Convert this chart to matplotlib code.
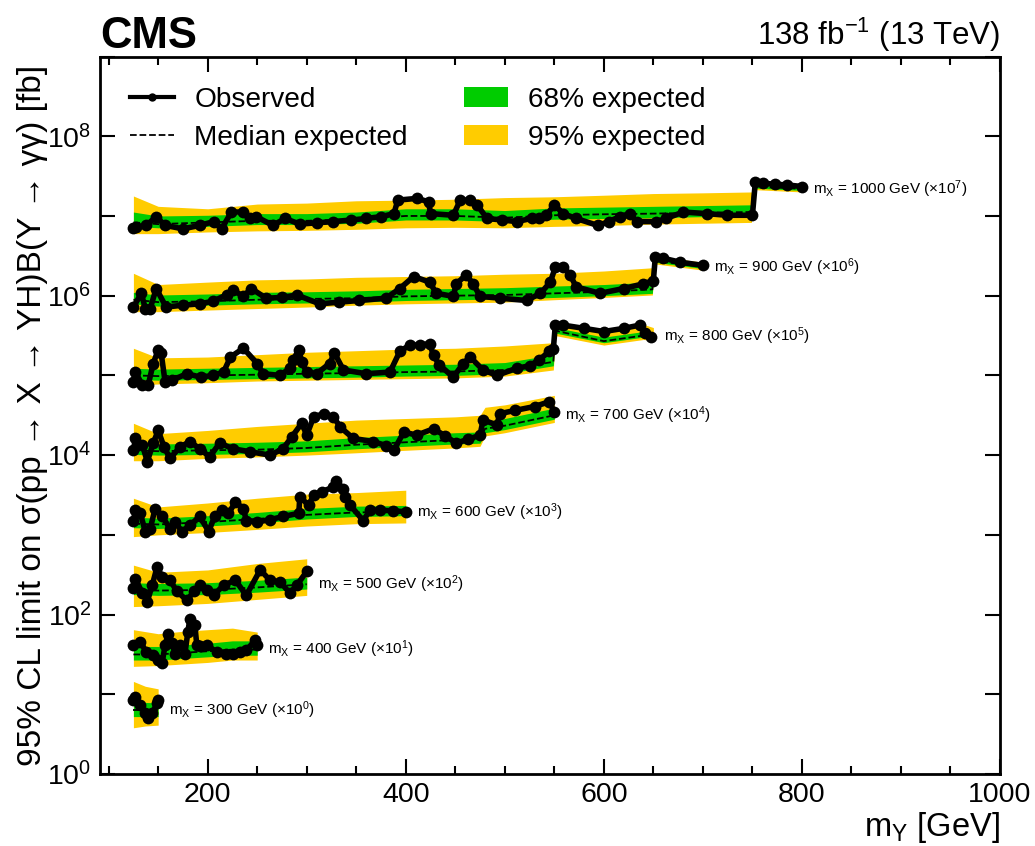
import numpy as np
import matplotlib
matplotlib.use("Agg")
import matplotlib.pyplot as plt
from matplotlib.lines import Line2D
from matplotlib.patches import Patch
from matplotlib.ticker import LogLocator, FuncFormatter, MultipleLocator, NullLocator

# limits in fb, before the x10^k scaling used in the plot
# mX = 1000 GeV (x10^7)
obs_x_1000 = [125, 128, 138, 148, 157, 175, 192, 206, 214, 224, 236, 243, 249, 266, 278, 293, 310, 327, 345, 360,
              375, 388, 392, 411, 423, 425, 448, 455, 465, 472, 482, 497, 512, 527, 535, 542, 550, 559, 572, 594,
              605, 616, 626, 633, 653, 663, 680, 704, 724, 750, 753, 761, 773, 785, 800]
obs_1000 = [0.70, 0.72, 0.76, 0.98, 0.76, 0.69, 0.76, 0.85, 0.69, 1.12, 1.12, 0.93, 0.98, 0.76, 0.93, 0.79, 0.82, 0.85, 0.89, 0.93,
            0.98, 1.07, 1.58, 1.66, 1.51, 1.07, 1.02, 1.58, 1.58, 1.38, 0.93, 0.89, 0.85, 0.93, 0.95, 1.02, 1.38, 1.07, 0.93, 0.76,
            0.85, 0.98, 1.07, 0.85, 0.85, 0.93, 1.12, 1.07, 1.02, 1.02, 2.70, 2.57, 2.50, 2.45, 2.34]
exp_x_1000 = [125, 150, 200, 250, 300, 350, 400, 450, 500, 550, 600, 650, 700, 749, 751, 800]
exp_1000 = [0.83, 0.79, 0.83, 0.87, 0.87, 0.91, 1.00, 1.00, 0.95, 1.02, 1.05, 1.07, 1.10, 1.12, 2.34, 2.19]
p2_1000 = [1.78, 1.32, 1.23, 1.41, 1.45, 1.55, 1.58, 1.62, 1.70, 1.74, 1.82, 1.91, 1.95, 2.00, 2.63, 2.45]
p1_1000 = [1.12, 1.00, 1.02, 1.07, 1.07, 1.12, 1.23, 1.23, 1.17, 1.26, 1.29, 1.32, 1.35, 1.38, 2.45, 2.29]
m1_1000 = [0.74, 0.71, 0.74, 0.78, 0.78, 0.81, 0.89, 0.89, 0.85, 0.91, 0.93, 0.95, 0.98, 1.00, 2.24, 2.09]
m2_1000 = [0.60, 0.60, 0.63, 0.65, 0.66, 0.68, 0.71, 0.72, 0.71, 0.74, 0.76, 0.79, 0.81, 0.83, 2.14, 2.00]

# mX = 900 GeV (x10^6)
obs_x_900 = [125, 133, 137, 142, 148, 158, 175, 192, 205, 219, 226, 236, 244, 259, 275, 290, 313, 333, 353, 380,
             394, 408, 424, 431, 448, 451, 461, 468, 475, 495, 522, 536, 546, 551, 559, 566, 572, 596, 620, 640,
             650, 652, 660, 677, 700]
obs_900 = [0.72, 1.07, 0.69, 0.69, 1.23, 0.72, 0.76, 0.79, 0.85, 1.02, 1.17, 0.98, 1.23, 0.93, 0.95, 1.02, 0.79, 0.83, 0.87, 0.93,
           1.23, 1.74, 1.48, 1.07, 0.98, 1.41, 1.82, 1.41, 0.98, 0.93, 0.87, 1.07, 1.48, 2.29, 2.29, 1.82, 1.29, 1.07, 1.23, 1.41,
           1.55, 3.09, 2.95, 2.63, 2.40]
exp_x_900 = [125, 150, 200, 250, 300, 350, 400, 450, 500, 550, 600, 649, 651, 700]
exp_900 = [0.89, 0.83, 0.85, 0.89, 0.91, 0.93, 0.98, 1.00, 1.02, 1.07, 1.12, 1.20, 2.75, 2.29]
p2_900 = [1.91, 1.38, 1.48, 1.58, 1.62, 1.70, 1.74, 1.78, 1.86, 1.91, 2.04, 2.24, 3.16, 2.63]
p1_900 = [1.10, 1.02, 1.05, 1.10, 1.12, 1.15, 1.20, 1.23, 1.26, 1.32, 1.38, 1.48, 2.95, 2.45]
m1_900 = [0.79, 0.74, 0.76, 0.79, 0.81, 0.83, 0.87, 0.89, 0.91, 0.95, 1.00, 1.07, 2.63, 2.19]
m2_900 = [0.63, 0.63, 0.66, 0.69, 0.72, 0.76, 0.79, 0.81, 0.83, 0.89, 0.95, 1.02, 2.51, 2.09]

# mX = 800 GeV (x10^5)
obs_x_800 = [125, 127, 134, 140, 145, 150, 153, 157, 164, 179, 193, 205, 216, 223, 236, 250, 256, 273, 283, 286,
             292, 295, 300, 310, 323, 328, 337, 360, 384, 394, 404, 414, 424, 428, 434, 448, 458, 465, 478, 492,
             512, 525, 535, 545, 549, 551, 559, 580, 600, 620, 636, 642, 648]
obs_800 = [0.83, 1.10, 0.76, 0.76, 1.41, 2.09, 1.91, 0.83, 0.87, 1.05, 0.95, 1.00, 1.10, 1.70, 2.19, 1.41, 1.05, 1.00, 1.23, 1.55,
           2.09, 1.48, 1.10, 1.05, 1.41, 1.91, 1.17, 1.05, 1.10, 2.00, 2.40, 2.40, 2.51, 1.78, 1.35, 0.95, 1.41, 1.70, 1.17, 1.00,
           1.23, 1.32, 1.58, 2.00, 2.14, 4.27, 4.27, 3.89, 3.55, 3.89, 4.27, 3.39, 3.02]
exp_x_800 = [125, 150, 200, 250, 300, 350, 400, 450, 500, 549, 551, 600, 640, 650]
exp_800 = [1.00, 0.98, 1.00, 1.02, 1.05, 1.07, 1.10, 1.12, 1.17, 1.48, 3.63, 2.69, 3.16, 3.09]
p2_800 = [2.19, 1.66, 1.70, 1.82, 1.95, 2.04, 2.14, 2.19, 2.34, 2.57, 4.47, 3.63, 4.37, 3.98]
p1_800 = [1.23, 1.20, 1.23, 1.26, 1.29, 1.32, 1.35, 1.38, 1.45, 1.82, 3.98, 3.02, 3.55, 3.47]
m1_800 = [0.89, 0.87, 0.89, 0.91, 0.93, 0.95, 0.98, 1.00, 1.05, 1.32, 3.39, 2.57, 3.02, 2.95]
m2_800 = [0.76, 0.78, 0.81, 0.85, 0.87, 0.89, 0.91, 0.93, 0.98, 1.17, 3.16, 2.40, 2.82, 2.75]

# mX = 700 GeV (x10^4)
obs_x_700 = [125, 127, 134, 139, 145, 150, 156, 162, 172, 182, 192, 202, 212, 226, 243, 263, 276, 285, 295, 300,
             307, 317, 327, 334, 347, 367, 380, 388, 398, 411, 428, 440, 451, 463, 475, 478, 492, 495, 510, 530,
             545, 550]
obs_700 = [1.15, 1.62, 1.35, 0.83, 1.41, 2.04, 1.26, 0.91, 1.26, 1.48, 1.20, 0.95, 1.41, 1.20, 1.10, 1.00, 1.20, 1.70, 2.51, 1.78,
           3.02, 3.31, 3.02, 2.24, 1.62, 1.48, 1.32, 1.15, 1.95, 1.78, 2.14, 1.74, 1.41, 1.58, 1.78, 2.75, 2.40, 3.31, 3.63, 4.07,
           4.68, 3.47]
exp_x_700 = [125, 150, 200, 250, 300, 350, 400, 450, 475, 480, 500, 550]
exp_700 = [1.15, 1.12, 1.15, 1.17, 1.23, 1.35, 1.45, 1.55, 1.58, 2.14, 2.34, 3.16]
p2_700 = [2.51, 1.86, 2.04, 2.29, 2.51, 2.75, 2.88, 3.02, 3.16, 3.98, 4.27, 5.62]
p1_700 = [1.41, 1.38, 1.41, 1.45, 1.51, 1.66, 1.78, 1.91, 1.95, 2.63, 2.88, 3.89]
m1_700 = [1.02, 1.00, 1.02, 1.05, 1.10, 1.20, 1.29, 1.38, 1.41, 1.91, 2.09, 2.82]
m2_700 = [0.85, 0.85, 0.91, 0.95, 1.00, 1.07, 1.15, 1.23, 1.29, 1.74, 1.91, 2.57]

# mX = 600 GeV (x10^3)
obs_x_600 = [125, 127, 132, 137, 142, 147, 154, 162, 167, 174, 182, 192, 201, 207, 214, 221, 228, 236, 239, 250,
             263, 276, 292, 293, 302, 307, 315, 327, 330, 337, 339, 344, 357, 364, 374, 387, 400]
obs_600 = [1.51, 2.04, 1.86, 1.10, 1.20, 2.14, 1.70, 1.20, 1.45, 1.10, 1.32, 1.70, 1.10, 1.70, 2.04, 1.86, 2.57, 2.14, 1.51, 1.45,
           1.55, 1.70, 1.86, 3.02, 2.34, 3.16, 3.47, 3.98, 4.68, 3.80, 3.02, 2.34, 1.51, 2.04, 2.04, 2.00, 1.95]
exp_x_600 = [125, 150, 200, 250, 300, 350, 400]
exp_600 = [1.38, 1.35, 1.45, 1.58, 1.78, 1.91, 1.95]
p2_600 = [2.88, 2.24, 2.51, 2.88, 3.24, 3.39, 3.63]
p1_600 = [1.66, 1.62, 1.74, 1.91, 2.14, 2.29, 2.34]
m1_600 = [1.23, 1.20, 1.29, 1.41, 1.58, 1.70, 1.74]
m2_600 = [0.95, 1.00, 1.07, 1.17, 1.29, 1.38, 1.41]

# mX = 500 GeV (x10^2)
obs_x_500 = [125, 127, 134, 139, 144, 149, 154, 162, 169, 179, 186, 192, 199, 206, 216, 228, 239, 253, 263, 273,
             283, 290, 300]
obs_500 = [2.14, 2.82, 1.86, 1.45, 2.34, 3.98, 2.95, 2.69, 1.95, 1.51, 1.95, 2.34, 2.04, 1.74, 2.34, 2.69, 1.74, 3.63, 2.69, 2.57,
           1.86, 2.34, 3.47]
exp_x_500 = [125, 150, 200, 250, 300]
exp_500 = [2.04, 2.00, 2.04, 2.19, 2.40]
p2_500 = [4.17, 3.39, 3.63, 4.37, 5.01]
p1_500 = [2.51, 2.45, 2.51, 2.69, 2.95]
m1_500 = [1.78, 1.74, 1.78, 1.91, 2.09]
m2_500 = [1.26, 1.29, 1.38, 1.55, 1.74]

# mX = 400 GeV (x10^1)
obs_x_400 = [125, 132, 138, 145, 150, 154, 157, 160, 164, 167, 172, 177, 180, 182, 187, 189, 192, 199, 209, 218,
             226, 233, 239, 248, 250]
obs_400 = [4.17, 4.57, 3.39, 3.09, 2.69, 2.45, 4.17, 5.75, 4.37, 3.24, 4.17, 3.24, 6.03, 8.91, 7.41, 4.17, 3.98, 4.17, 3.39, 3.16,
           3.24, 3.39, 3.55, 4.79, 4.17]
exp_x_400 = [125, 150, 175, 200, 225, 250]
exp_400 = [3.16, 3.16, 3.31, 3.47, 3.63, 3.63]
p2_400 = [6.46, 5.75, 6.17, 6.46, 6.76, 6.03]
p1_400 = [3.98, 3.98, 4.17, 4.37, 4.68, 4.68]
m1_400 = [2.69, 2.69, 2.82, 2.95, 3.09, 3.09]
m2_400 = [2.24, 2.29, 2.40, 2.51, 2.69, 2.69]

# mX = 300 GeV (x10^0)
obs_x_300 = [125, 127, 132, 137, 140, 144, 149, 150]
obs_300 = [8.5, 9.3, 7.4, 5.75, 5.0, 5.75, 7.76, 8.5]
exp_x_300 = [125, 137, 150]
exp_300 = [6.31, 6.31, 6.31]
p2_300 = [14.5, 12.6, 11.7]
p1_300 = [8.3, 7.9, 7.8]
m1_300 = [5.25, 5.25, 5.25]
m2_300 = [3.8, 4.0, 4.1]

mx_values = [1000, 900, 800, 700, 600, 500, 400, 300]
scale_exp = [7, 6, 5, 4, 3, 2, 1, 0]

series = [
    (obs_x_1000, obs_1000, exp_x_1000, exp_1000, m2_1000, m1_1000, p1_1000, p2_1000),
    (obs_x_900, obs_900, exp_x_900, exp_900, m2_900, m1_900, p1_900, p2_900),
    (obs_x_800, obs_800, exp_x_800, exp_800, m2_800, m1_800, p1_800, p2_800),
    (obs_x_700, obs_700, exp_x_700, exp_700, m2_700, m1_700, p1_700, p2_700),
    (obs_x_600, obs_600, exp_x_600, exp_600, m2_600, m1_600, p1_600, p2_600),
    (obs_x_500, obs_500, exp_x_500, exp_500, m2_500, m1_500, p1_500, p2_500),
    (obs_x_400, obs_400, exp_x_400, exp_400, m2_400, m1_400, p1_400, p2_400),
    (obs_x_300, obs_300, exp_x_300, exp_300, m2_300, m1_300, p1_300, p2_300),
]

green = '#00CC00'
yellow = '#FFCC00'

plt.rcParams['font.family'] = ['Liberation Sans', 'DejaVu Sans']
plt.rcParams['mathtext.fontset'] = 'custom'
plt.rcParams['mathtext.rm'] = 'Liberation Sans'
plt.rcParams['mathtext.it'] = 'Liberation Sans:italic'
plt.rcParams['mathtext.bf'] = 'Liberation Sans:bold'

fig = plt.figure(figsize=(10.35, 8.46), dpi=100)
ax = fig.add_axes([0.0966, 0.0851, 0.8696, 0.8481])

for mx, k, (ox, oy, ex, em, m2, m1, p1, p2) in zip(mx_values, scale_exp, series):
    s = 10.0 ** k
    ax.fill_between(ex, np.array(m2) * s, np.array(p2) * s, color=yellow, lw=0, zorder=1)
    ax.fill_between(ex, np.array(m1) * s, np.array(p1) * s, color=green, lw=0, zorder=2)
    ax.plot(ex, np.array(em) * s, color='k', ls='--', lw=1.3, zorder=3)
    ax.plot(ox, np.array(oy) * s, color='k', lw=4, marker='o', ms=8.5, mew=0, zorder=4)
    lab = r'm$_{\mathrm{X}}$ = %d GeV (×10$^{%d}$)' % (mx, k)
    ax.annotate(lab, (ex[-1], em[-1] * s), xytext=(8, 0), textcoords='offset points',
                fontsize=11, va='center', ha='left')

ax.set_yscale('log')
ax.set_xlim(91.25, 1000)
ax.set_ylim(1, 1e9)

ax.xaxis.set_major_locator(MultipleLocator(200))
ax.xaxis.set_minor_locator(MultipleLocator(50))
ax.yaxis.set_major_locator(LogLocator(base=10, numticks=20))
ax.yaxis.set_minor_locator(NullLocator())


def ylab(v, pos):
    e = int(round(np.log10(v)))
    return r'$10^{%d}$' % e if e % 2 == 0 else ''


ax.yaxis.set_major_formatter(FuncFormatter(ylab))
ax.tick_params(which='both', direction='in', top=True, right=True, labelsize=20.5, width=1.5, pad=6)
ax.tick_params(which='major', length=11)
ax.tick_params(which='minor', length=6)
for sp in ax.spines.values():
    sp.set_linewidth(2)

ax.set_ylabel('95% CL limit on σ(pp → X → YH)B(Y → γγ) [fb]', fontsize=24)
ax.yaxis.set_label_coords(-0.058, 0.5)
ax.set_xlabel(r'm$_{\mathrm{Y}}$ [GeV]', fontsize=23.5, loc='right', labelpad=1)

ax.text(0, 1.012, 'CMS', transform=ax.transAxes, fontsize=31.5, fontweight='bold', va='baseline', ha='left')
ax.text(1, 1.016, r'138 fb$^{-1}$ (13 TeV)', transform=ax.transAxes, fontsize=22.5, va='baseline', ha='right')

handles = [Line2D([], [], color='k', lw=3, marker='o', ms=6, mew=0),
           Line2D([], [], color='k', ls='--', lw=1.3),
           Patch(facecolor=green, edgecolor='none'),
           Patch(facecolor=yellow, edgecolor='none')]
labels = ['Observed', 'Median expected', '68% expected', '95% expected']
ax.legend(handles, labels, ncol=2, loc='upper left', bbox_to_anchor=(0.0056, 0.993), frameon=False, fontsize=20.2,
          handlelength=1.57, handleheight=0.7, handletextpad=0.71, columnspacing=2.0,
          labelspacing=0.43, borderaxespad=0.5)

fig.savefig('out.png', dpi=100)
